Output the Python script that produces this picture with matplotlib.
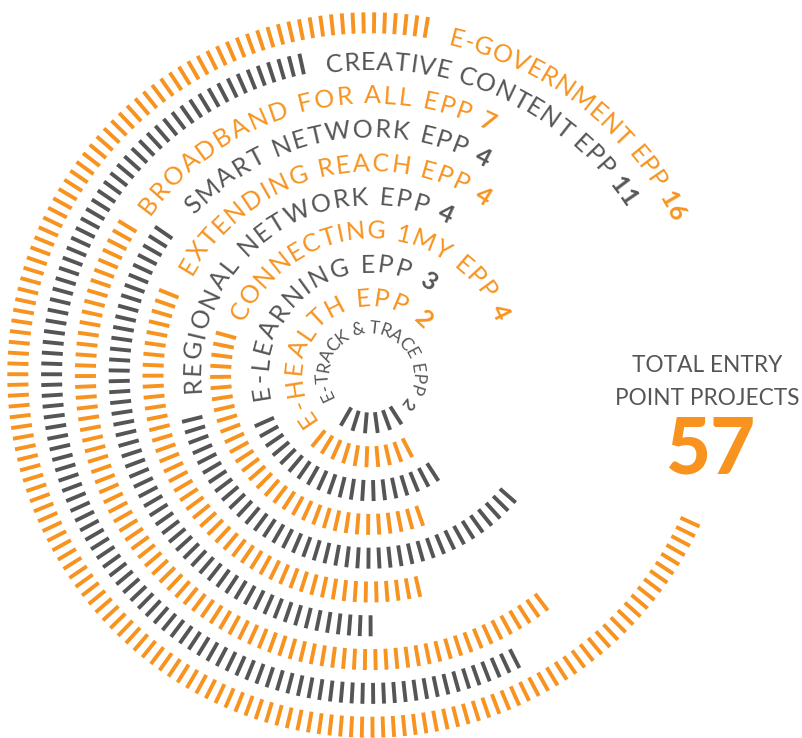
import numpy as np
import matplotlib
matplotlib.use("Agg")
import matplotlib.pyplot as plt
from matplotlib.font_manager import FontProperties
from matplotlib.textpath import TextToPath

# entry point projects, outermost ring first
labels = ["E-GOVERNMENT EPP", "CREATIVE CONTENT EPP", "BROADBAND FOR ALL EPP",
          "SMART NETWORK EPP", "EXTENDING REACH EPP", "REGIONAL NETWORK EPP",
          "CONNECTING 1MY EPP", "E-LEARNING EPP", "E-HEALTH EPP", "E-TRACK & TRACE EPP"]
projects = [16, 11, 7, 4, 4, 4, 4, 3, 2, 2]
total_title = ["TOTAL ENTRY", "POINT PROJECTS"]

ORANGE = "#f7931e"
DARK = "#555557"
ring_colors = [ORANGE if i % 2 == 0 else DARK for i in range(len(labels))]

# angular scale: project count -> sweep of the dashed arc (degrees)
span_domain = [2, 3, 4, 7, 11, 16]
span_range = [73, 102, 125, 160, 196, 256]

# layout (pixels / degrees)
W, H = 803, 738
CX, CY = 370, 375
R = 375
ring_r = 48 + 33.8 * np.arange(len(labels))[::-1]
arc_start = [80.8, 102.4, 148.5, 145.4, 158, 194, 164.6, 204, 231, 240]
# label runs clockwise from the first letter to the count
text_from = [75.5, 96.5, 142.4, 136, 149, 183.2, 153.6, 189, 213.9, 205.5]
text_to = [27.9, 34.4, 65, 62.6, 57.6, 64.9, 25.9, 58, 46, -37.5]
TICK_LEN = 21
TICK_PITCH = 10.5
TICK_LW = 2.8
PX = 100 / 72

fig = plt.figure(figsize=(W / 100, H / 100), dpi=100)
fig.patch.set_facecolor("white")
ax = fig.add_axes([(CX - R) / W, (H - CY - R) / H, 2 * R / W, 2 * R / H], projection="polar")
ax.set_ylim(0, R)
ax.set_axis_off()

ttp = TextToPath()


def advance(ch, fp):
    w1 = ttp.get_text_width_height_descent("H" + ch + "H", fp, ismath=False)[0]
    w0 = ttp.get_text_width_height_descent("HH", fp, ismath=False)[0]
    return (w1 - w0) * PX


def arc_text(pieces, deg_from, deg_to, r):
    # spread the characters clockwise so the first and last centres
    # land on deg_from and deg_to
    chars = [(ch, fp, col) for text, fp, col in pieces for ch in text]
    widths = [advance(ch, fp) for ch, fp, col in chars]
    centres = np.cumsum(widths) - np.array(widths) / 2
    natural = centres[-1] - centres[0]
    extent = np.radians(deg_from - deg_to) * r
    track = (extent - natural) / (len(chars) - 1)
    for k, (ch, fp, col) in enumerate(chars):
        if ch == " ":
            continue
        s = centres[k] - centres[0] + k * track
        th = np.radians(deg_from) - s / r
        cap = 0.72 * fp.get_size_in_points() * PX
        ax.text(th, r - cap / 2, ch, rotation=np.degrees(th) - 90,
                rotation_mode="anchor", ha="center", va="baseline",
                fontproperties=fp, color=col, clip_on=False)


for i, (lab, val) in enumerate(zip(labels, projects)):
    r = ring_r[i]
    t0 = np.radians(arc_start[i])
    sweep = np.radians(np.interp(val, span_domain, span_range))
    thetas = t0 + np.arange(0, sweep + 1e-9, TICK_PITCH / r)
    ax.vlines(thetas, r - TICK_LEN / 2, r + TICK_LEN / 2, colors=ring_colors[i],
              linewidth=TICK_LW, capstyle="butt")

    inner = i == len(labels) - 1
    size = 12.5 if inner else 18
    fp_txt = FontProperties(family="Lato", weight="normal", size=size)
    fp_num = FontProperties(family="Lato", weight="bold", size=size)
    arc_text([(lab + " ", fp_txt, ring_colors[i]), (str(val), fp_num, ring_colors[i])],
             text_from[i], text_to[i], r if inner else r - 4)

for line, y in zip(total_title, [366, 398]):
    fig.text(707 / W, 1 - y / H, line, ha="center", va="center",
             fontsize=16.3, fontfamily="Lato", color=DARK)
fig.text(710 / W, 1 - 451 / H, str(sum(projects)), ha="center", va="center",
         fontsize=56, fontfamily="Lato", fontweight="black", color=ORANGE)

fig.savefig("out.png", dpi=100, facecolor="white")
